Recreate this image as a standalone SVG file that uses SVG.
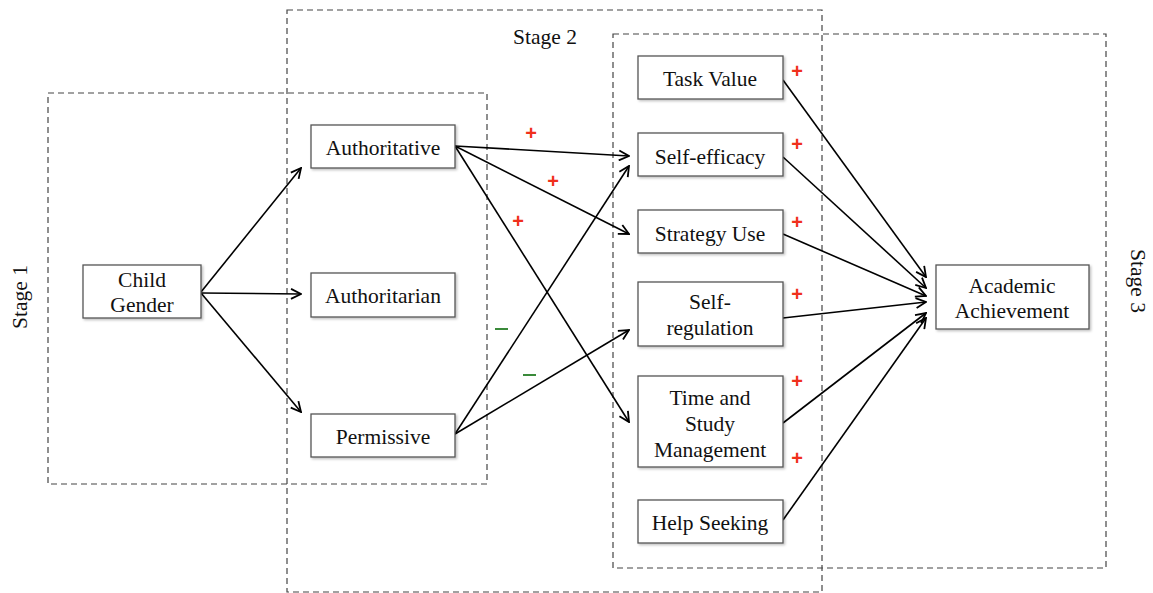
<svg xmlns="http://www.w3.org/2000/svg" width="1153" height="593" viewBox="0 0 1153 593">
<style>
.stage{fill:none;stroke:#444;stroke-width:1.2;stroke-dasharray:6,4}
.box{fill:#fff;stroke:#555;stroke-width:1.3}
.t{font-family:"Liberation Serif","Times New Roman",serif;font-size:21.5px;fill:#111;text-anchor:middle}
.c{fill:none;stroke:#000;stroke-width:1.6;marker-end:url(#ah)}
.plus{font-family:"Liberation Sans",Arial,sans-serif;font-size:20px;font-weight:bold;fill:#f0301c;text-anchor:middle}
.minus{stroke:#3a8a3a;stroke-width:2}
</style>
<defs>
<marker id="ah" viewBox="0 0 12 12" refX="11" refY="6" markerWidth="12" markerHeight="12" markerUnits="userSpaceOnUse" orient="auto">
<path d="M1,1 L11,6 L1,11" fill="none" stroke="#000" stroke-width="1.8"/>
</marker>
<filter id="sh" x="-10%" y="-10%" width="130%" height="130%">
<feDropShadow dx="1.5" dy="1.5" stdDeviation="1" flood-color="#000" flood-opacity="0.25"/>
</filter>
</defs>
<rect width="1153" height="593" fill="#fff"/>
<g id="stages">
<rect class="stage" x="48" y="93" width="439" height="391"/>
<rect class="stage" x="287" y="10" width="535" height="582"/>
<rect class="stage" x="613" y="34" width="493" height="534"/>
<text class="t" x="545" y="44">Stage 2</text>
<text class="t" transform="translate(27,297) rotate(-90)">Stage 1</text>
<text class="t" transform="translate(1131,281) rotate(90)">Stage 3</text>
</g>
<g id="connectors">
<line class="c" x1="201" y1="292" x2="301" y2="168"/>
<line class="c" x1="201" y1="293" x2="301" y2="294"/>
<line class="c" x1="201" y1="293" x2="301" y2="412"/>
<line class="c" x1="455" y1="146" x2="629" y2="156"/>
<line class="c" x1="455" y1="146" x2="629" y2="234"/>
<line class="c" x1="455" y1="146" x2="629" y2="422"/>
<line class="c" x1="455" y1="434" x2="629" y2="166"/>
<line class="c" x1="455" y1="434" x2="629" y2="330"/>
<line class="c" x1="783" y1="80" x2="926" y2="277"/>
<line class="c" x1="783" y1="157" x2="926" y2="288"/>
<line class="c" x1="783" y1="234" x2="926" y2="296"/>
<line class="c" x1="783" y1="318" x2="926" y2="302"/>
<line class="c" x1="783" y1="423" x2="926" y2="313"/>
<line class="c" x1="783" y1="520" x2="926" y2="318"/>
</g>
<g id="signs">
<text class="plus" x="531" y="140">+</text>
<text class="plus" x="553" y="188">+</text>
<text class="plus" x="518" y="228">+</text>
<text class="plus" x="797" y="78">+</text>
<text class="plus" x="797" y="151">+</text>
<text class="plus" x="797" y="229">+</text>
<text class="plus" x="797" y="301">+</text>
<text class="plus" x="797" y="388">+</text>
<text class="plus" x="797" y="465">+</text>
<line class="minus" x1="495" y1="329" x2="508" y2="329"/>
<line class="minus" x1="523" y1="375" x2="536" y2="375"/>
</g>
<g id="child-gender"><rect class="box" filter="url(#sh)" x="83" y="265" width="118" height="53"/><text class="t" x="142" y="287">Child</text><text class="t" x="142" y="312">Gender</text></g>
<g id="authoritative"><rect class="box" filter="url(#sh)" x="311" y="125" width="144" height="43"/><text class="t" x="383" y="155">Authoritative</text></g>
<g id="authoritarian"><rect class="box" filter="url(#sh)" x="311" y="273" width="144" height="44"/><text class="t" x="383" y="303">Authoritarian</text></g>
<g id="permissive"><rect class="box" filter="url(#sh)" x="311" y="414" width="144" height="43"/><text class="t" x="383" y="444">Permissive</text></g>
<g id="task-value"><rect class="box" filter="url(#sh)" x="638" y="56" width="145" height="43"/><text class="t" x="710" y="86">Task Value</text></g>
<g id="self-efficacy"><rect class="box" filter="url(#sh)" x="638" y="133" width="145" height="43"/><text class="t" x="710" y="164">Self-efficacy</text></g>
<g id="strategy-use"><rect class="box" filter="url(#sh)" x="638" y="210" width="145" height="43"/><text class="t" x="710" y="241">Strategy Use</text></g>
<g id="self-regulation"><rect class="box" filter="url(#sh)" x="638" y="282" width="145" height="64"/><text class="t" x="710" y="309">Self-</text><text class="t" x="710" y="335">regulation</text></g>
<g id="time-study"><rect class="box" filter="url(#sh)" x="638" y="376" width="145" height="91"/><text class="t" x="710" y="405">Time and</text><text class="t" x="710" y="431">Study</text><text class="t" x="710" y="457">Management</text></g>
<g id="help-seeking"><rect class="box" filter="url(#sh)" x="638" y="500" width="145" height="43"/><text class="t" x="710" y="530">Help Seeking</text></g>
<g id="academic-achievement"><rect class="box" filter="url(#sh)" x="936" y="265" width="153" height="64"/><text class="t" x="1012" y="293">Academic</text><text class="t" x="1012" y="318">Achievement</text></g>
</svg>
